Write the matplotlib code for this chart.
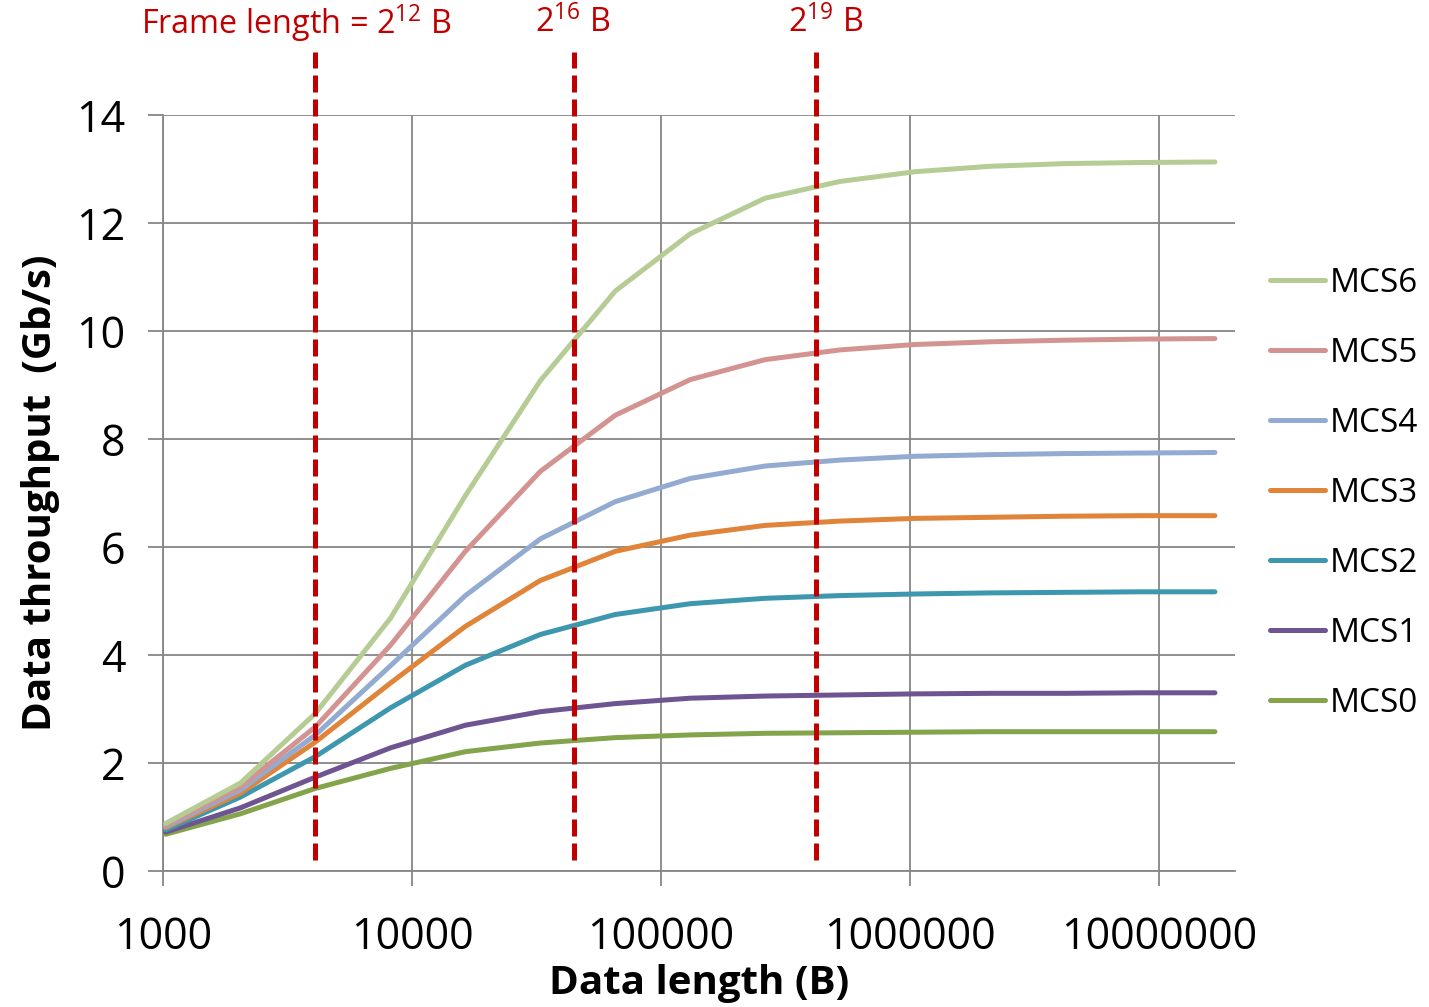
import matplotlib
matplotlib.use("Agg")
import matplotlib.pyplot as plt
from matplotlib.ticker import FixedLocator, FixedFormatter, NullLocator

plt.rcParams['font.family'] = ['Open Sans', 'DejaVu Sans']
plt.rcParams['mathtext.fontset'] = 'custom'
plt.rcParams['mathtext.rm'] = 'Open Sans'

# ---- data ----
data_length = [1024, 2048, 4096, 8192, 16384, 32768, 65536, 131072, 262144,
               524288, 1048576, 2097152, 4194304, 8388608, 16777216]
mcs6 = [0.88, 1.63, 2.92, 4.68, 6.95, 9.08, 10.74, 11.80, 12.46, 12.77, 12.95, 13.05, 13.10, 13.12, 13.13]
mcs5 = [0.85, 1.56, 2.67, 4.18, 5.92, 7.40, 8.44, 9.10, 9.47, 9.65, 9.75, 9.80, 9.83, 9.85, 9.86]
mcs4 = [0.82, 1.50, 2.52, 3.80, 5.10, 6.15, 6.84, 7.27, 7.50, 7.61, 7.68, 7.71, 7.73, 7.74, 7.75]
mcs3 = [0.80, 1.44, 2.39, 3.48, 4.53, 5.38, 5.92, 6.22, 6.40, 6.48, 6.53, 6.55, 6.57, 6.58, 6.58]
mcs2 = [0.76, 1.37, 2.12, 3.02, 3.81, 4.38, 4.75, 4.95, 5.05, 5.10, 5.13, 5.15, 5.16, 5.17, 5.17]
mcs1 = [0.72, 1.17, 1.74, 2.28, 2.70, 2.95, 3.10, 3.20, 3.24, 3.26, 3.28, 3.29, 3.29, 3.30, 3.30]
mcs0 = [0.68, 1.06, 1.53, 1.90, 2.21, 2.37, 2.47, 2.52, 2.55, 2.56, 2.57, 2.58, 2.58, 2.58, 2.58]

series_names = ['MCS6', 'MCS5', 'MCS4', 'MCS3', 'MCS2', 'MCS1', 'MCS0']
series_values = [mcs6, mcs5, mcs4, mcs3, mcs2, mcs1, mcs0]
series_colors = ['#B5CC94', '#D39391', '#93AAD1', '#DF8439', '#3D97AE', '#6E5592', '#84A44C']

x_ticks = [1000, 10000, 100000, 1000000, 10000000]
x_tick_labels = ['1000', '10000', '100000', '1000000', '10000000']
y_ticks = [0, 2, 4, 6, 8, 10, 12, 14]

frame_marks = [4096, 44700, 418000]
frame_labels = [r'Frame length = 2$^{12}$ B', r'2$^{16}$ B', r'2$^{19}$ B']

# ---- figure ----
W, H = 1429, 1007
fig = plt.figure(figsize=(W / 100, H / 100), dpi=100)
ax = fig.add_axes([163 / W, 1 - 871 / H, (1235 - 163) / W, (871 - 115) / H])

grid_c = '#868686'
for name, vals, col in zip(series_names[::-1], series_values[::-1], series_colors[::-1]):
    ax.plot(data_length, vals, color=col, lw=3.6, label=name,
            solid_capstyle='round', solid_joinstyle='round', zorder=3)

ax.set_xscale('log')
ax.set_xlim(1000, 2.02e7)
ax.set_ylim(0, 14)
ax.xaxis.set_major_locator(FixedLocator(x_ticks))
ax.xaxis.set_major_formatter(FixedFormatter(x_tick_labels))
ax.xaxis.set_minor_locator(NullLocator())
ax.yaxis.set_major_locator(FixedLocator(y_ticks))

ax.grid(True, which='major', color=grid_c, lw=1.3)
ax.set_axisbelow(True)
for s in ['top', 'right']:
    ax.spines[s].set_visible(False)
for s in ['left', 'bottom']:
    ax.spines[s].set_color(grid_c)
    ax.spines[s].set_linewidth(1.3)
ax.tick_params(axis='both', which='major', direction='out', length=11,
               width=1.3, color=grid_c, labelsize=31, labelcolor='black')
ax.tick_params(axis='y', pad=16)
ax.tick_params(axis='x', pad=21)

ax.set_xlabel('Data length (B)', fontsize=29, fontweight='bold', labelpad=3)
ax.set_ylabel('Data throughput  (Gb/s)', fontsize=29, fontweight='bold', labelpad=12)

# red dashed frame-length markers
for xm in frame_marks:
    ln, = ax.plot([xm, xm], [0.0146, 1.083], transform=ax.get_xaxis_transform(),
                  color='#C00000', lw=3.6, clip_on=False, zorder=4)
    ln.set_dashes((3.4, 1.4))

label_px = [296, 573, 826]
for lx, txt in zip(label_px, frame_labels):
    fig.text(lx / W, 1 - 23 / H, txt, color='#C00000', fontsize=23.3,
             ha='center', va='center')

handles, labels = ax.get_legend_handles_labels()
leg = ax.legend(handles[::-1], labels[::-1], loc='center left',
                bbox_to_anchor=(1.02, 0.5), frameon=False, fontsize=24,
                handlelength=1.65, handletextpad=0.15, labelspacing=1.11,
                borderaxespad=0)

fig.savefig('out.png', dpi=100)
